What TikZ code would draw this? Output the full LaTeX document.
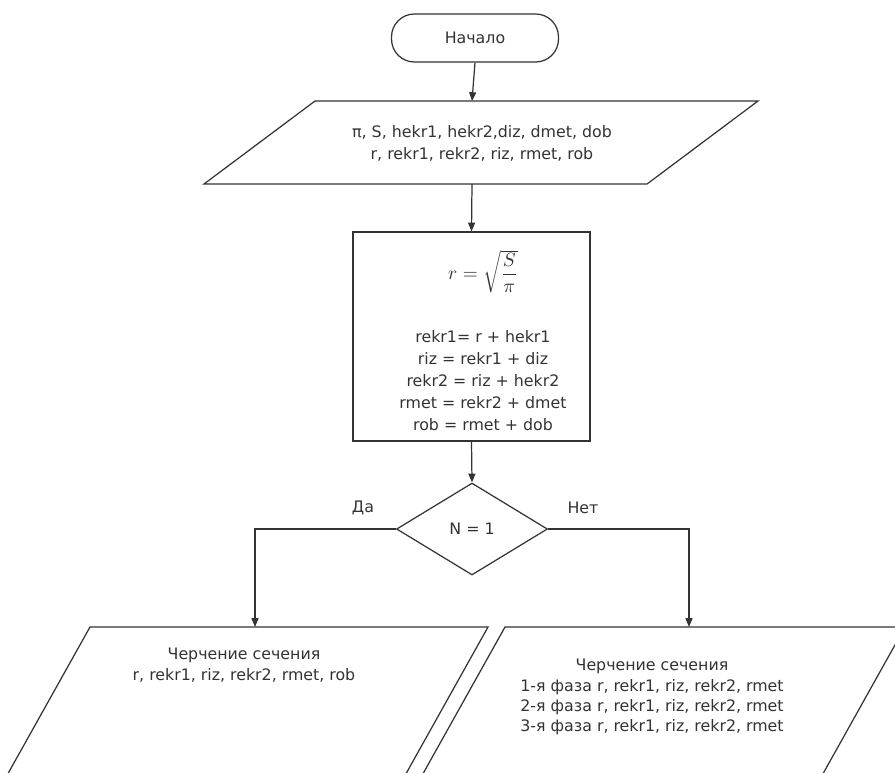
\documentclass[tikz,border=0pt]{standalone}
\usepackage{fontspec}
\setmainfont{DejaVu Sans}
\usetikzlibrary{shapes.geometric,arrows.meta}
\begin{document}
\begin{tikzpicture}[x=0.02cm,y=-0.02cm,
  line/.style={draw=black!80, line width=0.7pt},
  arr/.style={line, -{Triangle[length=5pt,width=4pt]}},
  txt/.style={font=\fontsize{9}{12.5}\selectfont, text=black!80, align=center, inner sep=0pt},
  term/.style={line, rounded corners=13pt, minimum width=3.34cm, minimum height=0.96cm, txt},
  box/.style={line, minimum width=4.74cm, minimum height=4.18cm},
  dec/.style={line, diamond, minimum width=3.02cm, minimum height=1.84cm, inner sep=0pt, txt},
  io/.style={line, fill=white, line join=miter}]
\useasboundingbox (0,0) rectangle (895,772);
\clip (0,0) rectangle (895,772);

% start
\node[term] (start) at (475,38) {Начало};

% input parallelogram
\path[io] (315,101) -- (758,101) -- (647,184) -- (204,184) -- cycle;
\coordinate (p1top) at (472,101);
\coordinate (p1bot) at (472,184);
\node[txt] (in1) at (482,143) {π, S, hekr1, hekr2,diz, dmet, dob\\r, rekr1, rekr2, riz, rmet, rob};

% calculation box
\node[box] (calc) at (471.5,336.5) {};
\node[txt, font=\fontsize{11}{13}\selectfont] (formula) at (483,272) {$r = \sqrt{\displaystyle\frac{S}{\pi}}$};
\node[txt, font=\fontsize{9}{12.5}\selectfont] (calctext) at (483,381)
  {rekr1= r + hekr1\\riz = rekr1 + diz\\rekr2 = riz + hekr2\\rmet = rekr2 + dmet\\rob = rmet + dob};

% decision
\node[dec] (dec) at (472,529) {N = 1};
\node[txt] (yes) at (363,508) {Да};
\node[txt] (no) at (583,508) {Нет};

% output parallelograms
\path[io] (90,627) -- (488,627) -- (391.3,800) -- (-6.8,800) -- cycle;
\path[io] (505,627) -- (905,627) -- (808.3,800) -- (408.3,800) -- cycle;
\coordinate (p2top) at (255,627);
\coordinate (p3top) at (689,627);
\node[txt, font=\fontsize{9}{12}\selectfont] (out1) at (244,665) {Черчение сечения\\r, rekr1, riz, rekr2, rmet, rob};
\node[txt, font=\fontsize{9}{11.5}\selectfont] (out2) at (652,697) {Черчение сечения\\1-я фаза r, rekr1, riz, rekr2, rmet\\2-я фаза r, rekr1, riz, rekr2, rmet\\3-я фаза r, rekr1, riz, rekr2, rmet};

% connectors
\draw[arr] (start.south) -- (p1top);
\draw[arr] (p1bot) -- (calc.north);
\draw[arr] (calc.south) -- (dec.north);
\draw[arr] (dec.west) -| (p2top);
\draw[arr] (dec.east) -| (p3top);
\end{tikzpicture}
\end{document}
